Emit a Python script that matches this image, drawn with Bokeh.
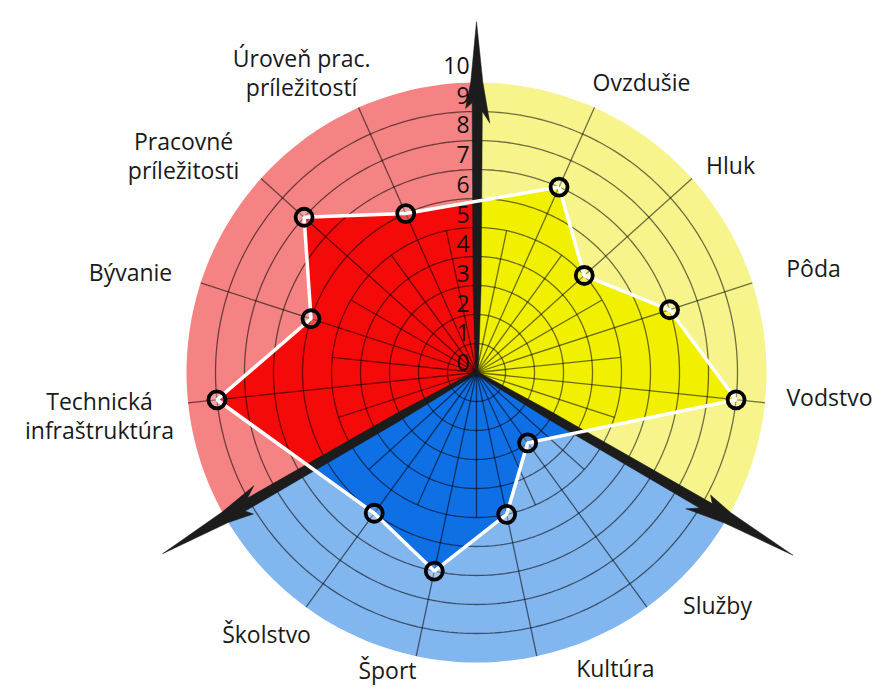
import numpy as np
from bokeh.plotting import figure
from bokeh.models import Range1d
from bokeh.core.properties import value
from bokeh.embed import file_html
from bokeh.resources import INLINE

# ---------------- data ----------------
categories = ["Ovzdušie", "Hluk", "Pôda", "Vodstvo",
              "Služby", "Kultúra", "Šport", "Školstvo",
              "Technická infraštruktúra", "Bývanie", "Pracovné príležitosti",
              "Úroveň prac. príležitostí"]
values = [7, 5, 7, 9, 3, 5, 7, 6, 9, 6, 8, 6]
scale_ticks = [0, 1, 2, 3, 4, 5, 6, 7, 8, 9, 10]
max_value = 10

# ---------------- layout / style ----------------
UNIT = 29.0
W, H = 886, 688
CX, CY = 476, 372
FONT = "Open Sans"

sector_start = [90, -30, -150]          # degrees, sectors run clockwise 120 deg
light_cols = ["#f6f48a", "#82b6ef", "#f58383"]
dark_cols = ["#f0f000", "#0f6fe4", "#f50a0a"]

# label layout: (line texts, x, y) in chart units
label_lines = [
    (["Ovzdušie"], 5.69, 10.03),
    (["Hluk"], 8.76, 7.14),
    (["Pôda"], 11.62, 3.59),
    (["Vodstvo"], 12.17, -0.86),
    (["Služby"], 8.31, -8.0),
    (["Kultúra"], 4.79, -10.2),
    (["Šport"], -3.07, -10.25),
    (["Školstvo"], -7.24, -9.03),
    (["Technická", "infraštruktúra"], -13.0, -0.97),
    (["Bývanie"], -11.93, 3.45),
    (["Pracovné", "príležitosti"], -10.10, 8.0),
    (["Úroveň prac.", "príležitostí"], -6.03, 10.86),
]
LINE_GAP = 1.0

p = figure(width=W, height=H,
           x_range=Range1d(-CX / UNIT, (W - CX) / UNIT),
           y_range=Range1d(-(H - CY) / UNIT, CY / UNIT),
           x_axis_type=None, y_axis_type=None,
           output_backend="svg", toolbar_location=None, min_border=0)
p.grid.visible = False
p.outline_line_color = None
p.background_fill_color = "white"

# category angles (4 per 120-degree sector, evenly split)
n_per = 4
step = 120 / (n_per + 1)
angles = []
for i in range(len(categories)):
    s = i // n_per
    k = i % n_per
    angles.append(sector_start[s] - step * (k + 1))
angles = np.radians(angles)
vals = np.array(values, dtype=float)
px = vals * np.cos(angles)
py = vals * np.sin(angles)

# outer light wedges
for s in range(3):
    a0 = np.radians(sector_start[s] - 120)
    a1 = np.radians(sector_start[s])
    p.wedge(x=0, y=0, radius=max_value, start_angle=a0, end_angle=a1,
            fill_color=light_cols[s], line_color=None)


def boundary_point(P, Q, phi):
    d = np.array([np.cos(phi), np.sin(phi)])
    P = np.array(P); Q = np.array(Q)
    e = Q - P
    cr = lambda a, b: a[0] * b[1] - a[1] * b[0]
    t = -cr(P, d) / cr(e, d)
    return P + t * e


n = len(categories)
for s in range(3):
    i0 = s * n_per
    i_prev = (i0 - 1) % n
    i_last = i0 + n_per - 1
    i_next = (i_last + 1) % n
    b0 = boundary_point((px[i_prev], py[i_prev]), (px[i0], py[i0]), np.radians(sector_start[s]))
    b1 = boundary_point((px[i_last], py[i_last]), (px[i_next], py[i_next]), np.radians(sector_start[s] - 120))
    xs = [0, b0[0]] + list(px[i0:i_last + 1]) + [b1[0]]
    ys = [0, b0[1]] + list(py[i0:i_last + 1]) + [b1[1]]
    p.patch(xs, ys, fill_color=dark_cols[s], line_color=None)

# grid circles
th = np.linspace(0, 2 * np.pi, 361)
gx = [list(r * np.cos(th)) for r in scale_ticks[1:-1]]
gy = [list(r * np.sin(th)) for r in scale_ticks[1:-1]]
p.multi_line(gx, gy, line_color="black", line_alpha=0.55, line_width=1.3)

# spokes: categories full length, intermediate shorter
sx, sy = [], []
for a in angles:
    sx.append([0, max_value * np.cos(a)]); sy.append([0, max_value * np.sin(a)])
for s in range(3):
    for k in range(n_per + 1):
        a = np.radians(sector_start[s] - step * k - step / 2)
        sx.append([0, 5 * np.cos(a)]); sy.append([0, 5 * np.sin(a)])
p.multi_line(sx, sy, line_color="black", line_alpha=0.55, line_width=1.3)

# arrow spikes on sector boundaries
arrow_shape = [(0.0, -0.04), (3.0, -0.12), (9.3, -0.15), (9.1, -0.38), (10.0, -0.2),
               (1.0, 0.0), (10.0, 0.22), (8.6, 0.46), (9.0, 0.2), (3.0, 0.16), (0.3, 0.07), (0.0, 0.04)]
tips = [12.1, 12.6, 12.5]
ax_list, ay_list = [], []
for s in range(3):
    th0 = np.radians(sector_start[s])
    u = np.array([np.cos(th0), np.sin(th0)])
    nrm = np.array([np.sin(th0), -np.cos(th0)])
    xs, ys = [], []
    for (a, b) in arrow_shape:
        if a == 1.0 and b == 0.0:
            a = tips[s]
        pt = a * u + b * nrm
        xs.append(pt[0]); ys.append(pt[1])
    ax_list.append(xs); ay_list.append(ys)
p.patches(ax_list, ay_list, fill_color="#1c1c1c", line_color="#1c1c1c", line_width=0.5)

# data outline and markers
p.line(list(px) + [px[0]], list(py) + [py[0]], line_color="white", line_width=3.5)
p.scatter(px, py, size=17, marker="circle", fill_color="white", fill_alpha=0.25,
          line_color="black", line_width=3.8)

# scale numbers along the vertical axis
p.text(x=[-0.24] * len(scale_ticks), y=[0.34 + 1.025 * t for t in scale_ticks],
       text=[str(t) for t in scale_ticks], text_align="right", text_baseline="middle",
       text_font=value(FONT), text_font_size="23px", text_color="#111111")

# category labels
tx, ty, tt = [], [], []
for lines, x, y in label_lines:
    for j, line in enumerate(lines):
        tx.append(x); ty.append(y - j * LINE_GAP); tt.append(line)
p.text(x=tx, y=ty, text=tt, text_align="center", text_baseline="middle",
       text_font=value(FONT), text_font_size="23px", text_color="#1a1a1a")

open("out.html", "w").write(file_html(p, INLINE))
